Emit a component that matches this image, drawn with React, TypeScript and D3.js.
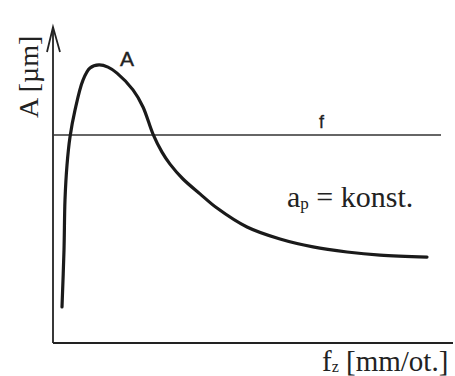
import React from "react";
import * as d3 from "d3";

// Amplitude curve A over feed per tooth (relative units)
const curveX = [2.25, 2.75, 3, 3.5, 4.25, 5.5, 7.5, 9.25, 11.5, 13.75, 16, 20, 22.5, 25, 27.25, 29.25, 32.5, 36.75, 41, 48.5, 56.75, 65, 73.5, 81.75, 93.5];
const curveY = [11.4, 29.4, 45.3, 56.3, 65.2, 73.7, 83.2, 87.0, 88.0, 87.3, 85.4, 80.1, 74.7, 66.1, 60.4, 56.6, 51.9, 47.2, 42.7, 36.7, 32.9, 30.4, 28.8, 27.8, 27.2];
// Constant level f
const fLevel = 65.8;
const fEnd = 97;

const W = 455;
const H = 376;

export default function App() {
  const x = d3.scaleLinear().domain([0, 100]).range([53, 453]);
  const y = d3.scaleLinear().domain([0, 100]).range([343, 27]);
  const pts = curveX.map((v, i) => [v, curveY[i]] as [number, number]);
  const line = d3
    .line<[number, number]>()
    .x((d) => x(d[0]))
    .y((d) => y(d[1]))
    .curve(d3.curveCatmullRom.alpha(0.5));

  const x0 = x(0);
  const y0 = y(0);
  const yTop = y(100);
  const serif = "'Liberation Serif', 'Times New Roman', serif";
  const sans = "'Liberation Sans', Arial, sans-serif";

  return (
    <svg
      width={W}
      height={H}
      style={{ position: "absolute", left: 0, top: 0, background: "#fff" }}
    >
      {/* axes */}
      <line x1={x0} y1={y0} x2={x0} y2={yTop} stroke="#222" strokeWidth={1.8} />
      <line x1={x0} y1={y0} x2={x(100)} y2={y0} stroke="#222" strokeWidth={2} />
      <path
        d={`M${x0 - 6},${yTop + 25} L${x0},${yTop} L${x0 + 7},${yTop + 25}`}
        fill="none"
        stroke="#222"
        strokeWidth={1.8}
      />
      {/* constant f */}
      <line x1={x0} y1={y(fLevel)} x2={x(fEnd)} y2={y(fLevel)} stroke="#333" strokeWidth={1.6} />
      {/* A curve */}
      <path d={line(pts) ?? ""} fill="none" stroke="#1a1a1a" strokeWidth={3.2} strokeLinecap="round" />
      {/* labels */}
      <text x={120} y={66} fontFamily={sans} fontSize={21} fill="#222" stroke="#222" strokeWidth={0.4}>A</text>
      <text x={319} y={128} fontFamily={sans} fontSize={18} fill="#222" stroke="#222" strokeWidth={0.3}>f</text>
      <text
        transform="translate(38,118) rotate(-90)"
        fontFamily={serif}
        fontSize={28}
        fill="#222"
      >
        A [µm]
      </text>
      <text x={287} y={207} fontFamily={serif} fontSize={30} fill="#222">
        a<tspan fontSize={17} dy={2}>p</tspan>
        <tspan dy={-2}> = konst.</tspan>
      </text>
      <text x={322} y={371} fontFamily={serif} fontSize={29} fill="#222">
        f<tspan fontSize={16} dy={1}>z</tspan>
        <tspan dy={-1}> [mm/ot.]</tspan>
      </text>
    </svg>
  );
}
